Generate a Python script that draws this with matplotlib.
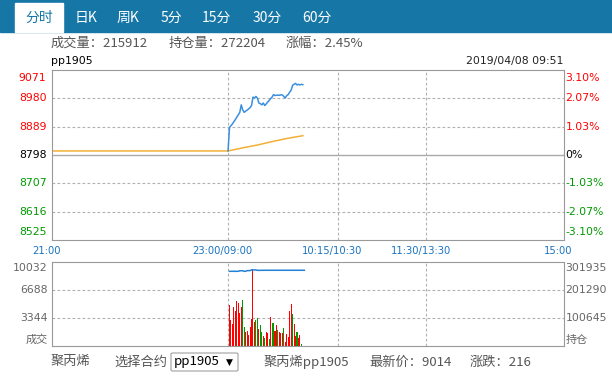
import numpy as np
import matplotlib
matplotlib.use("Agg")
import matplotlib.pyplot as plt
from matplotlib.patches import Rectangle, FancyBboxPatch

plt.rcParams['font.family'] = ['Noto Sans CJK SC', 'DejaVu Sans']

W, H = 612, 391

# ---- data ----
tabs = ["分时", "日K", "周K", "5分", "15分", "30分", "60分"]
tab_x = [39, 86, 128, 171, 216, 267, 317]

header = ["成交量：215912", "持仓量：272204", "涨幅：2.45%"]
header_x = [51, 169, 286]
footer = ["聚丙烯", "选择合约", "聚丙烯pp1905", "最新价：9014", "涨跌：216"]
footer_x = [51, 114, 264, 369, 470]

time_ticks = [0, 120, 195, 255, 349]
time_labels = ["21:00", "23:00/09:00", "10:15/10:30", "11:30/13:30", "15:00"]

pre_close = 8798
price_ticks = [8525, 8616, 8707, 8798, 8889, 8980, 9071]
pct_labels = ["-3.10%", "-2.07%", "-1.03%", "0%", "1.03%", "2.07%", "3.10%"]

# price per minute from 09:00
price = [8811, 8887, 8892, 8898, 8905, 8912, 8920, 8927, 8935, 8959,
         8943, 8935, 8939, 8942, 8946, 8950, 8957, 8984, 8981, 8986,
         8981, 8965, 8963, 8959, 8965, 8957, 8962, 8968, 8973, 8979,
         8984, 8992, 8989, 8990, 8990, 8990, 8991, 8991, 8986, 8981,
         8989, 8992, 9000, 9006, 9022, 9025, 9028, 9023, 9025, 9023,
         9025, 9024]
avg_min = [0, 120, 130, 140, 150, 160, 171]
avg_val = [8811, 8811, 8821, 8830, 8841, 8851, 8860]

volume = [4935, 3144, 2627, 4657, 4180, 5374, 5135, 3941, 4657, 5493,
          2269, 1672, 1791, 1313, 2269, 3224, 9234, 2866, 3104, 3343,
          2030, 2507, 1672, 1194, 955, 1672, 1552, 836, 3463, 2746,
          2746, 1791, 2507, 1910, 1672, 1552, 1552, 2149, 478, 1433,
          1075, 4180, 5015, 3821, 2627, 1194, 1672, 955, 1313, 239]
vol_up = [1, 1, 1, 1, 1, 1, 1, 1, 1, 0,
          0, 1, 1, 1, 1, 1, 1, 1, 0, 0,
          1, 0, 0, 1, 0, 1, 1, 0, 1, 0,
          0, 1, 1, 0, 1, 1, 1, 0, 1, 1,
          1, 1, 1, 0, 1, 1, 0, 1, 1, 0]
oi = [268500] * 7 + [270500] * 3 + [268500] * 2 + [271000] * 3 + \
     [273500] * 4 + [272000] * 4 + [272200] * 29
vol_ticks = [3344, 6688, 10032]
oi_ticks = [100645, 201290, 301935]

RED = "#ff0000"
GREEN = "#009a00"
GRAY_TXT = "#666666"
BLUE_TXT = "#1a73c0"
GRID = "#b0b0b0"
SPINE = "#999999"


def fx(x):
    return x / W


def fy(y):
    return 1 - y / H


fig = plt.figure(figsize=(W / 100, H / 100), dpi=100)

# top tab bar
fig.patches.append(Rectangle((0, fy(32)), 1, 32 / H, transform=fig.transFigure,
                             color="#1677a7", zorder=0))
fig.patches.append(Rectangle((fx(15), fy(32)), 48 / W, 29 / H, transform=fig.transFigure,
                             color="white", zorder=1))
for i, (t, x) in enumerate(zip(tabs, tab_x)):
    fig.text(fx(x), fy(18), t, ha="center", va="center", fontsize=10,
             color="#1677a7" if i == 0 else "white")

for t, x in zip(header, header_x):
    fig.text(fx(x), fy(43), t, ha="left", va="center", fontsize=9.5, color="#555555")
fig.text(fx(51), fy(61), "pp1905", ha="left", va="center", fontsize=7.8,
         family="DejaVu Sans", color="black")
fig.text(fx(563), fy(61), "2019/04/08 09:51", ha="right", va="center",
         fontsize=7.8, family="DejaVu Sans", color="#222222")

# ---- price panel ----
ax = fig.add_axes([fx(52), fy(240), 512 / W, 170 / H])
ax.set_xlim(0, 349)
ax.set_ylim(price_ticks[0], price_ticks[-1])
ax.set_xticks([])
ax.set_yticks([])
for s in ax.spines.values():
    s.set_color(SPINE)
for v in price_ticks[1:-1]:
    if v == pre_close:
        ax.axhline(v, color="#aaaaaa", lw=1, zorder=1)
    else:
        ax.axhline(v, color=GRID, lw=0.8, ls=(0, (2.5, 2)), zorder=1)
for t in time_ticks[1:-1]:
    ax.axvline(t, color=GRID, lw=0.8, ls=(0, (2.5, 2)), zorder=1)

pm = 120 + np.arange(len(price))
ax.plot(pm, price, color="#3a8fe0", lw=1.1, zorder=3)
ax.plot(avg_min, avg_val, color="#f2b035", lw=1.1, zorder=2)

for i, v in enumerate(price_ticks):
    c = RED if v > pre_close else ("black" if v == pre_close else GREEN)
    va = "top" if i == len(price_ticks) - 1 else ("bottom" if i == 0 else "center")
    off = -2 if i == len(price_ticks) - 1 else (2 if i == 0 else 0)
    ax.annotate(str(v), xy=(0, v), xycoords=("axes fraction", "data"),
                xytext=(-4, off), textcoords="offset points", ha="right", va=va,
                fontsize=7.8, family="DejaVu Sans", color=c)
    ax.annotate(pct_labels[i], xy=(1, v), xycoords=("axes fraction", "data"),
                xytext=(1, off), textcoords="offset points", ha="left", va=va,
                fontsize=7.8, family="DejaVu Sans", color=c)

for t, lab in zip(time_ticks, time_labels):
    ax.annotate(lab, xy=(t, 0), xycoords=("data", "axes fraction"),
                xytext=(-4, -8), textcoords="offset points", ha="center", va="center",
                fontsize=7.2, family="DejaVu Sans", color=BLUE_TXT)

# ---- volume panel ----
av = fig.add_axes([fx(52), fy(346), 512 / W, 84 / H])
av.set_xlim(0, 349)
av.set_ylim(0, vol_ticks[-1])
av.set_xticks([])
av.set_yticks([])
for s in av.spines.values():
    s.set_color(SPINE)
for v in vol_ticks[:-1]:
    av.axhline(v, color=GRID, lw=0.8, ls=(0, (2.5, 2)), zorder=1)
for t in time_ticks[1:-1]:
    av.axvline(t, color=GRID, lw=0.8, ls=(0, (2.5, 2)), zorder=1)

vm = 121 + np.arange(len(volume))
vcol = [RED if u else GREEN for u in vol_up]
av.bar(vm, volume, width=0.7, color=vcol, zorder=2)

ao = av.twinx()
ao.set_ylim(0, oi_ticks[-1])
ao.set_yticks([])
for s in ao.spines.values():
    s.set_visible(False)
om = 121 + np.arange(len(oi))
ao.plot(om, oi, color="#1f82d6", lw=1.1, zorder=3)

for i, (v, o) in enumerate(zip(vol_ticks, oi_ticks)):
    va = "top" if i == len(vol_ticks) - 1 else "center"
    off = -1 if i == len(vol_ticks) - 1 else 0
    av.annotate(str(v), xy=(0, v), xycoords=("axes fraction", "data"),
                xytext=(-3, off), textcoords="offset points", ha="right", va=va,
                fontsize=7.8, family="DejaVu Sans", color=GRAY_TXT)
    av.annotate(str(o), xy=(1, v), xycoords=("axes fraction", "data"),
                xytext=(1, off), textcoords="offset points", ha="left", va=va,
                fontsize=7.8, family="DejaVu Sans", color=GRAY_TXT)
av.annotate("成交", xy=(0, 0), xycoords="axes fraction", xytext=(-3, 1),
            textcoords="offset points", ha="right", va="bottom", fontsize=8,
            color=GRAY_TXT)
av.annotate("持仓", xy=(1, 0), xycoords="axes fraction", xytext=(1, 1),
            textcoords="offset points", ha="left", va="bottom", fontsize=8,
            color=GRAY_TXT)

# ---- bottom line ----
for t, x in zip(footer, footer_x):
    fig.text(fx(x), fy(362), t, ha="left", va="center", fontsize=9.5, color="#555555")
fig.patches.append(FancyBboxPatch((fx(171), fy(371)), 67 / W, 18 / H,
                                  boxstyle="round,pad=0,rounding_size=0.003",
                                  transform=fig.transFigure, facecolor="white",
                                  edgecolor="#a0a0a0", lw=0.8))
fig.text(fx(174), fy(362), "pp1905", ha="left", va="center", fontsize=9.5, color="black")
fig.text(fx(229), fy(362), "▼", ha="center", va="center", fontsize=6.5, color="black",
         family=["DejaVu Sans"])

fig.savefig("out.png", dpi=100)
